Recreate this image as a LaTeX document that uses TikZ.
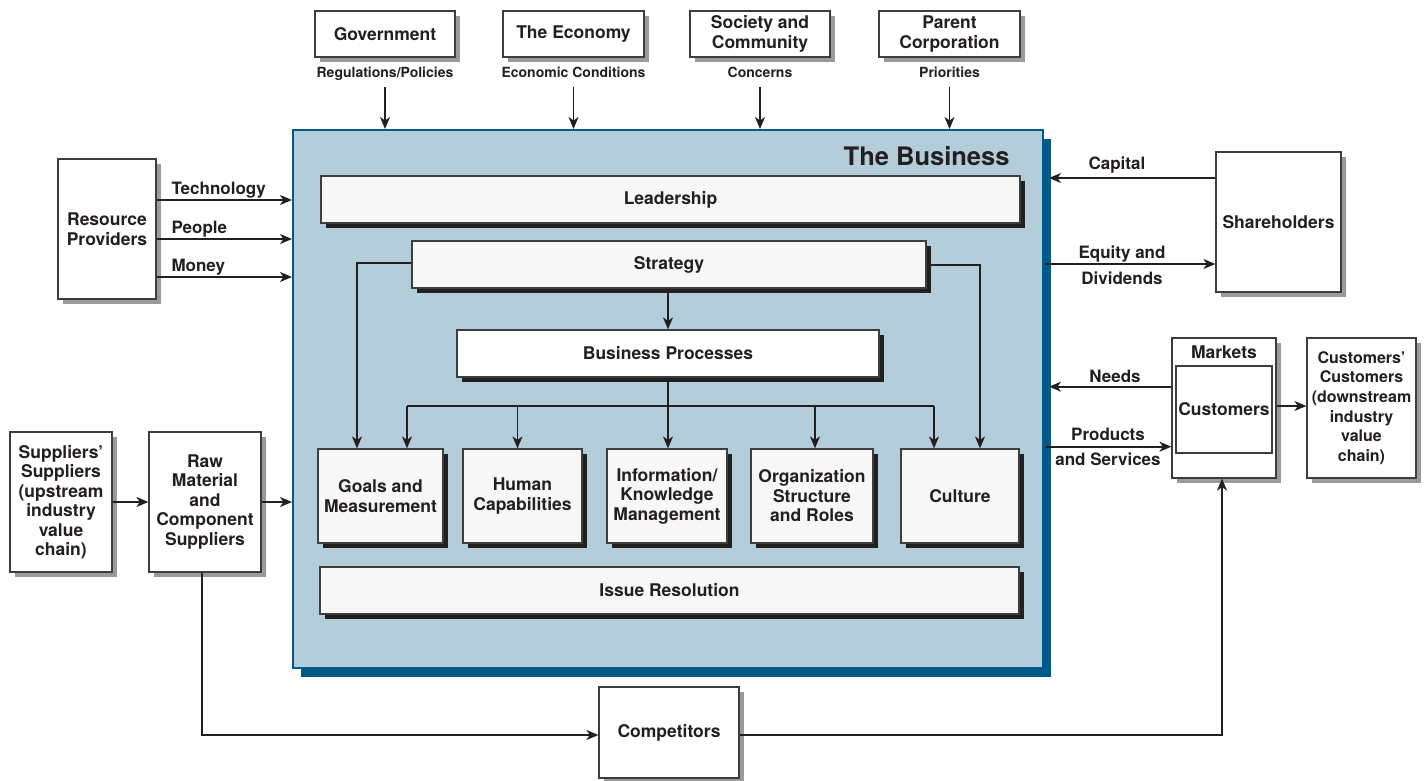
\documentclass[tikz,border=0pt]{standalone}
\usepackage{fontspec}
\setmainfont{TeX Gyre Heros}
\usetikzlibrary{arrows.meta,shadows}
\definecolor{ink}{HTML}{231F20}
\definecolor{edge}{HTML}{3D3D3D}
\definecolor{bizfill}{HTML}{B4CDDA}
\definecolor{bizblue}{HTML}{005A87}
\definecolor{shadowgray}{HTML}{9A9A9C}
\definecolor{panel}{HTML}{F7F7F7}

\begin{document}
\begin{tikzpicture}[x=1pt,y=-1pt,
  every node/.style={text=ink},
  txt/.style={font=\fontsize{17.5}{19.5}\selectfont\bfseries},
  lbl/.style={font=\fontsize{17}{19}\selectfont\bfseries},
  small/.style={font=\fontsize{14}{16}\selectfont\bfseries},
  outer/.style={draw=edge, line width=1.2pt, fill=white, inner sep=0pt, align=center, txt,
    general shadow={fill=shadowgray, shadow xshift=5pt, shadow yshift=-5pt}},
  inner/.style={draw=edge, line width=1.2pt, fill=panel, inner sep=0pt, align=center, txt,
    general shadow={fill=ink, shadow xshift=5pt, shadow yshift=-5pt}},
  arr/.style={draw=ink, line width=1.6pt, -{Stealth[length=12pt,width=10pt,inset=3.5pt]}},
  wire/.style={draw=ink, line width=1.6pt}
]
\useasboundingbox (0,0) rectangle (1428,780);

% the business frame
\node[draw=bizblue, line width=2pt, fill=bizfill, minimum width=750pt, minimum height=538pt,
  inner sep=0pt, general shadow={fill=bizblue, shadow xshift=8pt, shadow yshift=-9pt}]
  (biz) at (668,399) {};
\node[anchor=base east, font=\fontsize{25.5}{28}\selectfont\bfseries] (bizttl) at (1013,165.5) {The Business};

% external influences along the top
\node[outer, minimum width=140pt, minimum height=46pt] (gov) at (385,34) {Government};
\node[outer, minimum width=141pt, minimum height=46pt] (econ) at (573.5,34) {The Economy};
\node[outer, minimum width=140pt, minimum height=46pt] (soc) at (760,34) {Society and\\Community};
\node[outer, minimum width=141pt, minimum height=46pt] (par) at (949.5,34) {Parent\\Corporation};
\node[small, anchor=base] (govlbl) at (385,77.5) {Regulations/Policies};
\node[small, anchor=base] (econlbl) at (573.5,77.5) {Economic Conditions};
\node[small, anchor=base] (soclbl) at (760,77.5) {Concerns};
\node[small, anchor=base] (parlbl) at (949.5,77.5) {Priorities};

\draw[arr] ([yshift=-9.5pt]govlbl.base) -- (govlbl.base |- biz.north);
\draw[arr] ([yshift=-9.5pt]econlbl.base) -- (econlbl.base |- biz.north);
\draw[arr] ([yshift=-9.5pt]soclbl.base) -- (soclbl.base |- biz.north);
\draw[arr] ([yshift=-9.5pt]parlbl.base) -- (parlbl.base |- biz.north);

% inside the business
\node[inner, minimum width=699pt, minimum height=47pt] (lead) at (670.5,199.5) {Leadership};
\node[inner, minimum width=514pt, minimum height=47pt] (strat) at (669,264.5) {Strategy};
\node[inner, fill=white, minimum width=422pt, minimum height=47pt] (bp) at (668,353.5) {Business Processes};
\node[inner, minimum width=125pt, minimum height=94pt] (goals) at (380.5,496) {Goals and\\Measurement};
\node[inner, minimum width=119pt, minimum height=94pt] (human) at (522.5,496) {Human\\Capabilities};
\node[inner, minimum width=120pt, minimum height=94pt] (info) at (667,496) {Information/\\Knowledge\\Management};
\node[inner, minimum width=122pt, minimum height=94pt] (org) at (812,496) {Organization\\Structure\\and Roles};
\node[inner, minimum width=118pt, minimum height=94pt] (cult) at (960,496) {Culture};
\node[inner, minimum width=699pt, minimum height=47pt] (issue) at (669.5,590.5) {Issue Resolution};

\draw[arr] ([yshift=1.5pt]strat.west) -| ([xshift=-23.5pt]goals.north);
\draw[arr] ([yshift=-0.5pt]strat.east) -| ([xshift=20pt]cult.north);
\draw[arr] (bp.north |- strat.south) -- (bp.north);

\coordinate (busL) at (407,406);
\coordinate (busR) at (934,406);
\draw[wire] (bp.south) -- (bp.south |- busL);
\draw[wire] (busL) -- (busR);
\draw[arr] (busL) -- (busL |- goals.north);
\draw[arr] ([xshift=-5pt]human.north |- busL) -- ([xshift=-5pt]human.north);
\draw[arr] ([xshift=1pt]info.north |- busL) -- ([xshift=1pt]info.north);
\draw[arr] ([xshift=3pt]org.north |- busL) -- ([xshift=3pt]org.north);
\draw[arr] (busR) -- (busR |- cult.north);

% resource providers
\node[outer, minimum width=98pt, minimum height=140pt] (res) at (107,229) {Resource\\Providers};
\node[lbl, anchor=base west] (techlbl) at (168,194) {Technology};
\node[lbl, anchor=base west] (pplbl) at (168,233) {People};
\node[lbl, anchor=base west] (monlbl) at (168,271.5) {Money};
\draw[arr] ([yshift=29pt]res.east) -- ([yshift=29pt]res.east -| biz.west);
\draw[arr] ([yshift=-10pt]res.east) -- ([yshift=-10pt]res.east -| biz.west);
\draw[arr] ([yshift=-48pt]res.east) -- ([yshift=-48pt]res.east -| biz.west);

% shareholders
\node[outer, minimum width=125pt, minimum height=140pt] (share) at (1278.5,222) {Shareholders};
\node[lbl, anchor=base] (caplbl) at (1117,169.3) {Capital};
\node[lbl, anchor=base] (eqlbl) at (1122,258.3) {Equity and};
\node[lbl, anchor=base] (divlbl) at (1122,284.3) {Dividends};
\draw[arr] ([yshift=44pt]share.west) -- ([yshift=44pt,xshift=5pt]share.west -| biz.east);
\draw[arr] ([yshift=-42pt,xshift=2pt]share.west -| biz.east) -- ([yshift=-42pt]share.west);

% markets and customers
\node[outer, minimum width=104pt, minimum height=140pt] (markets) at (1224,408) {};
\node[txt, anchor=base] (mktlbl) at (1224,358.3) {Markets};
\node[draw=edge, line width=1.2pt, fill=white, txt, inner sep=0pt, minimum width=96pt, minimum height=87pt]
  (cust) at (1224,409.5) {Customers};
\node[outer, minimum width=109pt, minimum height=140pt, font=\fontsize{16}{19.6}\selectfont\bfseries]
  (cc) at (1361.5,408) {Customers'\\Customers\\(downstream\\industry\\value\\chain)};
\node[lbl, anchor=base] (needlbl) at (1115,382.7) {Needs};
\node[lbl, anchor=base] (prodlbl) at (1108,440.7) {Products};
\node[lbl, anchor=base] (servlbl) at (1108,465.3) {and Services};
\draw[arr] ([yshift=21.3pt]markets.west) -- ([yshift=21.3pt,xshift=5pt]markets.west -| biz.east);
\draw[arr] ([yshift=-38.7pt,xshift=2pt]markets.west -| biz.east) -- ([yshift=-38.7pt]markets.west);
\draw[arr] ([yshift=2pt]markets.east) -- ([yshift=2pt]markets.east -| cc.west);

% supply side
\node[outer, minimum width=102pt, minimum height=140pt] (ss) at (61,502)
  {Suppliers'\\Suppliers\\(upstream\\industry\\value\\chain)};
\node[outer, minimum width=112pt, minimum height=140pt] (raw) at (205,502)
  {Raw\\Material\\and\\Component\\Suppliers};
\draw[arr] (ss.east) -- (raw.west);
\draw[arr] (raw.east) -- (raw.east -| biz.west);

% competitors
\node[outer, minimum width=140pt, minimum height=91pt] (comp) at (669,732.5) {Competitors};
\draw[arr] ([xshift=-3.3pt]raw.south) |- ([yshift=-2.5pt]comp.west);
\draw[arr] ([yshift=-2.5pt]comp.east) -| ([xshift=-2pt]markets.south);
\end{tikzpicture}
\end{document}
